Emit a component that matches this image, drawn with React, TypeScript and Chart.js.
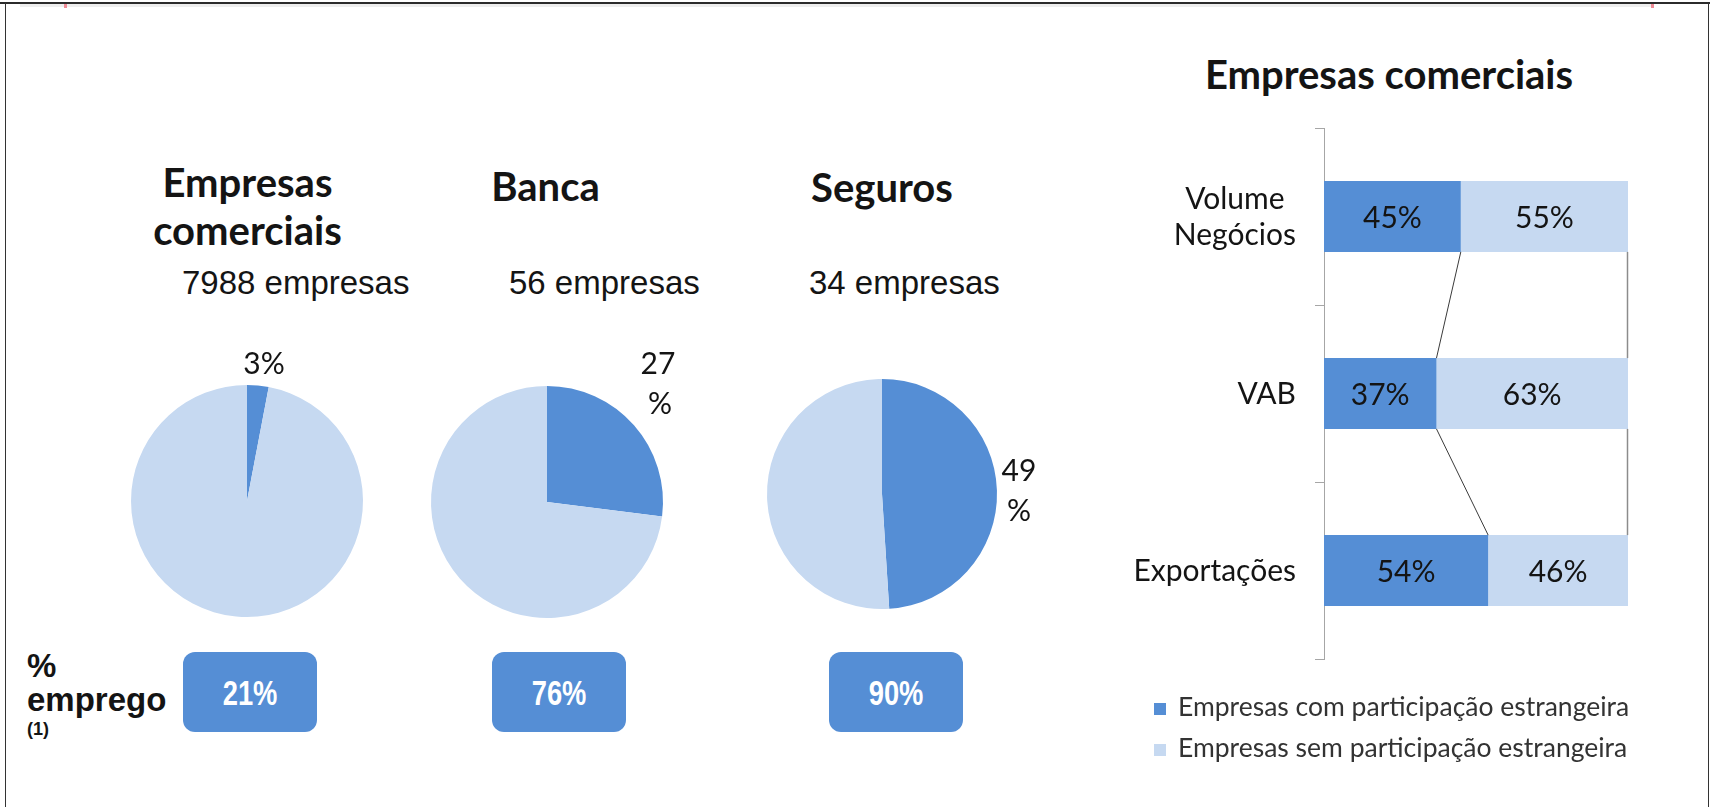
import React, { useEffect, useRef } from "react";
import { Chart, registerables } from "chart.js";

Chart.register(...registerables);

// ---------- data ----------
const pieTitles: string[][] = [["Empresas", "comerciais"], ["Banca"], ["Seguros"]];
const pieFirmCounts: number[] = [7988, 56, 34];
const pieForeignShare: number[] = [3, 27, 49];
const employmentShare: number[] = [21, 76, 90];
const employmentLabel: string[] = ["%", "emprego"];
const employmentNote = "(1)";

const barTitle = "Empresas comerciais";
const barCategories: string[][] = [["Volume", "Negócios"], ["VAB"], ["Exportações"]];
const barWithForeign: number[] = [45, 37, 54];
const barWithoutForeign: number[] = [55, 63, 46];
const legendLabels: string[] = [
  "Empresas com participação estrangeira",
  "Empresas sem participação estrangeira",
];

// ---------- styles ----------
const DARK = "#558ED5";
const LIGHT = "#C6D9F1";
const INK = "#141414";
const LATO = "Lato, 'Open Sans', sans-serif";
const ARIAL = "'Liberation Sans', Arial, sans-serif";
const F_TITLE = 40;
const F_LABEL = 30;
const F_LEGEND = 26.5;
const F_COUNT = 33;
const K_LATO = 0.887;
const K_ARIAL = 0.847;

const pieLayout = [
  { cx: 247, cy: 501, r: 116, titleX: 247.5, titleY: [197, 245], countX: 182, wrap: false, dx: [17], dy: [-127], boxX: 183 },
  { cx: 547, cy: 502, r: 116, titleX: 545.5, titleY: [201], countX: 509, wrap: true, dx: [111, 113], dy: [-128, -88], boxX: 492 },
  { cx: 882, cy: 494, r: 115, titleX: 882, titleY: [202], countX: 809, wrap: true, dx: [137, 137], dy: [-13, 27], boxX: 829 },
];

type TxtProps = {
  x: number; y: number; text: string; family: string; size: number; k: number;
  weight?: number; color?: string; align?: "left" | "center" | "right";
};

function Txt({ x, y, text, family, size, k, weight = 400, color = INK, align = "left" }: TxtProps) {
  const tr = align === "center" ? "translateX(-50%)" : align === "right" ? "translateX(-100%)" : undefined;
  return (
    <div
      style={{
        position: "absolute", left: x, top: y - k * size, fontFamily: family, fontSize: size,
        fontWeight: weight, lineHeight: `${size}px`, color, whiteSpace: "nowrap", transform: tr,
      }}
    >
      {text}
    </div>
  );
}

function PieChart({ index }: { index: number }) {
  const ref = useRef<HTMLCanvasElement>(null);
  const L = pieLayout[index];
  const S = 360;
  useEffect(() => {
    const value = pieForeignShare[index];
    const lines = L.wrap ? [`${value}`, "%"] : [`${value}%`];
    const labelPlugin = {
      id: "pieLabel",
      afterDraw(chart: any) {
        const arc = chart.getDatasetMeta(0).data[0];
        const ctx = chart.ctx as CanvasRenderingContext2D;
        ctx.save();
        ctx.font = `${F_LABEL}px ${LATO}`;
        ctx.fillStyle = INK;
        ctx.textAlign = "center";
        ctx.textBaseline = "alphabetic";
        lines.forEach((t, i) => ctx.fillText(t, arc.x + L.dx[i], arc.y + L.dy[i]));
        ctx.restore();
      },
    };
    const chart = new Chart(ref.current as HTMLCanvasElement, {
      type: "pie",
      data: {
        labels: legendLabels,
        datasets: [{ data: [value, 100 - value], backgroundColor: [DARK, LIGHT], borderWidth: 0 }],
      },
      options: {
        animation: false,
        responsive: false,
        events: [],
        layout: { padding: S / 2 - L.r },
        plugins: { legend: { display: false }, tooltip: { enabled: false } },
      },
      plugins: [labelPlugin],
    });
    return () => chart.destroy();
  }, []);
  return (
    <canvas
      ref={ref}
      width={S}
      height={S}
      style={{ position: "absolute", left: L.cx - S / 2, top: L.cy - S / 2, width: S, height: S }}
    />
  );
}

function BarChart() {
  const ref = useRef<HTMLCanvasElement>(null);
  useEffect(() => {
    const decor = {
      id: "barDecor",
      afterDatasetsDraw(chart: any) {
        const ctx = chart.ctx as CanvasRenderingContext2D;
        const m0 = chart.getDatasetMeta(0).data;
        const m1 = chart.getDatasetMeta(1).data;
        ctx.save();
        // series lines
        ctx.lineWidth = 1;
        for (let i = 0; i < m0.length - 1; i++) {
          const a = m0[i], b = m0[i + 1];
          ctx.strokeStyle = "#3a3a3a";
          ctx.beginPath();
          ctx.moveTo(a.x, a.y + a.height / 2);
          ctx.lineTo(b.x, b.y - b.height / 2);
          ctx.stroke();
          const c = m1[i], d = m1[i + 1];
          ctx.strokeStyle = "#8c8c8c";
          ctx.lineWidth = 1.5;
          ctx.beginPath();
          ctx.moveTo(c.x - 0.5, c.y + c.height / 2);
          ctx.lineTo(d.x - 0.5, d.y - d.height / 2);
          ctx.stroke();
          ctx.lineWidth = 1;
        }
        // value labels
        ctx.font = `${F_LABEL}px ${LATO}`;
        ctx.fillStyle = INK;
        ctx.textAlign = "center";
        ctx.textBaseline = "alphabetic";
        [m0, m1].forEach((meta: any[], di: number) =>
          meta.forEach((el: any, i: number) => {
            const v = chart.data.datasets[di].data[i];
            ctx.fillText(`${v}%`, (el.x + el.base) / 2, el.y + 11.5);
          })
        );
        // category labels
        const yScale = chart.scales.y;
        const right = chart.chartArea.left - 28;
        barCategories.forEach((lines, i) => {
          const yc = yScale.getPixelForValue(i);
          const w = Math.max(...lines.map((t) => ctx.measureText(t).width));
          const cx = right - w / 2;
          lines.forEach((t, j) => {
            ctx.fillText(t, cx, yc + 10.5 + (j - (lines.length - 1) / 2) * 36);
          });
        });
        ctx.restore();
      },
    };
    const chart = new Chart(ref.current as HTMLCanvasElement, {
      type: "bar",
      data: {
        labels: barCategories,
        datasets: [
          { label: legendLabels[0], data: barWithForeign, backgroundColor: DARK, borderWidth: 0, barPercentage: 0.4, categoryPercentage: 1 },
          { label: legendLabels[1], data: barWithoutForeign, backgroundColor: LIGHT, borderWidth: 0, barPercentage: 0.4, categoryPercentage: 1 },
        ],
      },
      options: {
        animation: false,
        responsive: false,
        events: [],
        indexAxis: "y",
        layout: { padding: { left: 0, top: 28, right: 72, bottom: 41 } },
        plugins: { legend: { display: false }, tooltip: { enabled: false } },
        scales: {
          x: { stacked: true, min: 0, max: 100, display: false },
          y: {
            stacked: true,
            offset: true,
            grid: { display: true, drawOnChartArea: false, drawTicks: true, tickLength: 9, color: "#a6a6a6", offset: true, lineWidth: 1 },
            border: { display: true, color: "#a6a6a6", width: 1 },
            ticks: { display: false },
            afterFit: (s: any) => { s.width = 224; },
          },
        },
      },
      plugins: [decor],
    });
    return () => chart.destroy();
  }, []);
  return (
    <canvas
      ref={ref}
      width={600}
      height={600}
      style={{ position: "absolute", left: 1100, top: 100, width: 600, height: 600 }}
    />
  );
}

export default function App() {
  return (
    <div style={{ position: "absolute", left: 0, top: 0, width: 1710, height: 807, background: "#fff", overflow: "hidden" }}>
      {/* frame */}
      <div style={{ position: "absolute", left: 0, top: 2, width: 1710, height: 2, background: "#2b2b2b" }} />
      <div style={{ position: "absolute", left: 20, top: 4, width: 1632, height: 3, background: "#eeeeee" }} />
      <div style={{ position: "absolute", left: 5, top: 3, width: 1, height: 804, background: "#333" }} />
      <div style={{ position: "absolute", left: 1708, top: 3, width: 1, height: 804, background: "#333" }} />
      <div style={{ position: "absolute", left: 64, top: 4, width: 3, height: 4, background: "#ee8b96" }} />
      <div style={{ position: "absolute", left: 1651, top: 4, width: 3, height: 4, background: "#ee8b96" }} />

      {/* pies */}
      {pieLayout.map((L, i) => (
        <React.Fragment key={i}>
          {pieTitles[i].map((t, j) => (
            <Txt key={j} x={L.titleX} y={L.titleY[j]} text={t} family={LATO} size={F_TITLE} k={K_LATO} weight={700} align="center" />
          ))}
          <Txt x={L.countX} y={294} text={`${pieFirmCounts[i]} empresas`} family={ARIAL} size={F_COUNT} k={K_ARIAL} />
          <PieChart index={i} />
          <div
            style={{
              position: "absolute", left: L.boxX, top: 652, width: 134, height: 80, borderRadius: 12,
              background: DARK, display: "flex", alignItems: "center", justifyContent: "center",
            }}
          >
            <span
              style={{
                display: "inline-block", color: "#fff", fontFamily: ARIAL, fontWeight: 700, fontSize: 35,
                lineHeight: "35px", transform: "scaleX(0.78)",
              }}
            >
              {`${employmentShare[i]}%`}
            </span>
          </div>
        </React.Fragment>
      ))}

      {/* employment label */}
      <Txt x={27} y={677} text={employmentLabel[0]} family={ARIAL} size={33} k={K_ARIAL} weight={700} />
      <Txt x={27} y={711} text={employmentLabel[1]} family={ARIAL} size={33} k={K_ARIAL} weight={700} />
      <Txt x={27} y={735} text={employmentNote} family={ARIAL} size={18} k={K_ARIAL} weight={700} />

      {/* bar chart */}
      <Txt x={1389} y={89} text={barTitle} family={LATO} size={F_TITLE} k={K_LATO} weight={700} align="center" />
      <BarChart />

      {/* legend */}
      {legendLabels.map((t, i) => (
        <React.Fragment key={i}>
          <div style={{ position: "absolute", left: 1154, top: 703 + i * 41, width: 12, height: 12, background: i === 0 ? DARK : LIGHT }} />
          <Txt x={1178} y={717 + i * 41} text={t} family={LATO} size={F_LEGEND} k={K_LATO} color="#333" />
        </React.Fragment>
      ))}
    </div>
  );
}
